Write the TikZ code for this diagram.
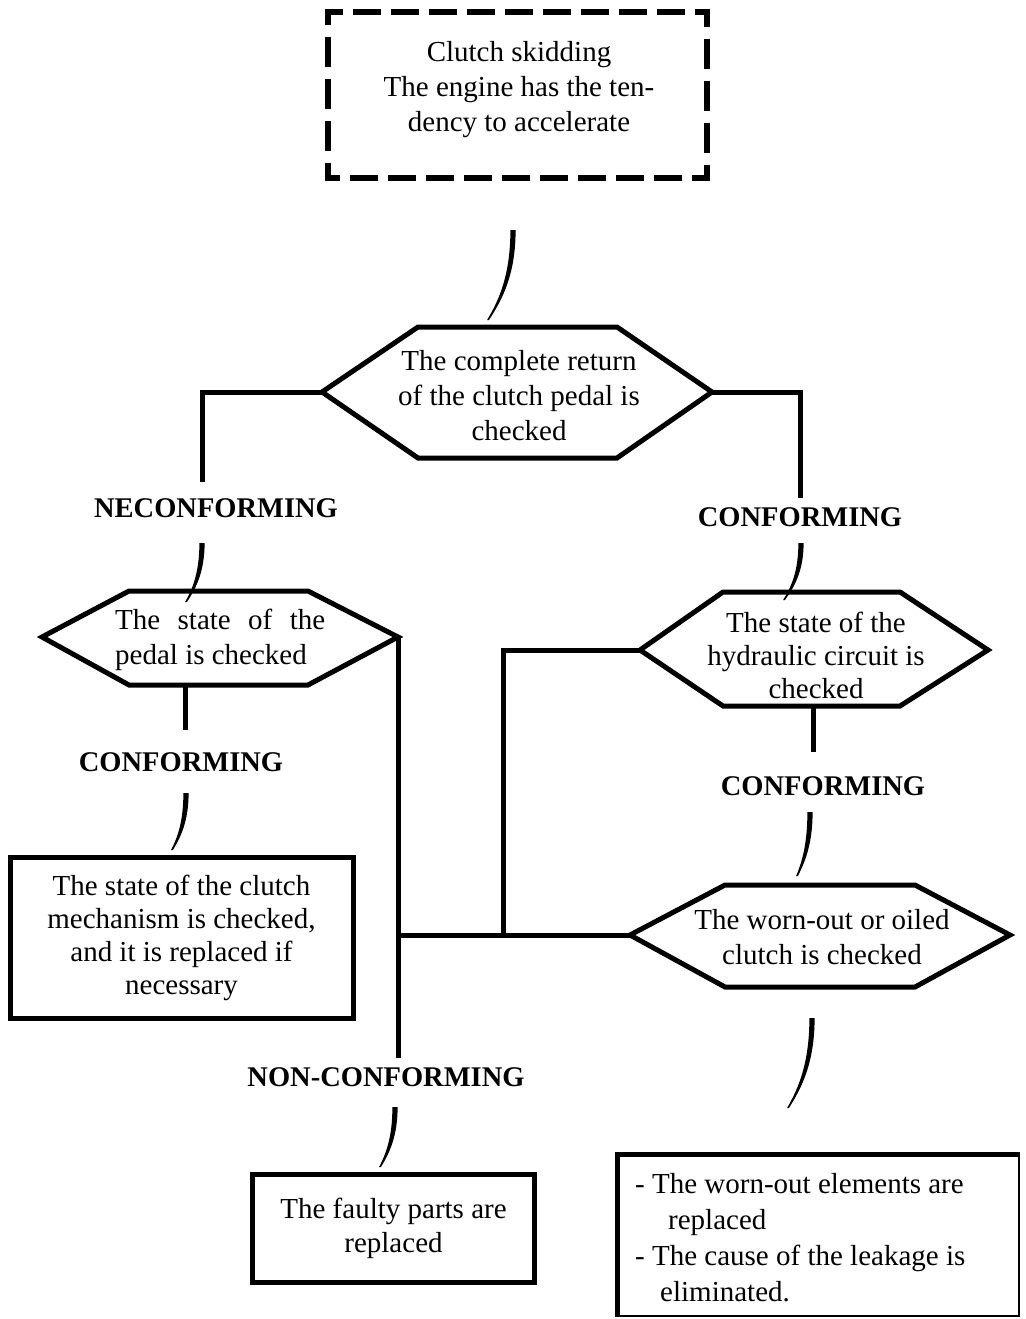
\documentclass[tikz,border=0pt]{standalone}
\usepackage{fontspec}
\setmainfont{Liberation Serif}
\usetikzlibrary{calc}
\tikzset{
  txt/.style={font=\fontsize{29}{35}\selectfont, align=center, inner sep=0pt},
  lbl/.style={font=\fontsize{28.5}{34}\selectfont\bfseries, inner sep=0pt},
  wire/.style={line width=5pt, line join=miter},
  shapeline/.style={line width=5pt, line join=miter},
  boxnode/.style={draw, line width=5pt, inner sep=0pt},
  hdash/.style={line width=6pt, dash pattern=on 28pt off 10pt, dash phase=10pt},
  vdash/.style={line width=6pt, dash pattern=on 30pt off 12pt, dash phase=12pt},
}
% tapered, slightly bent stroke from a top point down to a bottom point
\newcommand\brush[2]{\fill let \p1=(#1), \p2=(#2) in
  (\x1-2.6pt,\y1) .. controls (\x1-2.6pt,0.5*\y1+0.5*\y2) and (0.5*\x2+0.5*\x1-1.5pt,0.78*\y2+0.22*\y1) .. (\x2-0.9pt,\y2)
  -- (\x2+0.9pt,\y2) .. controls (0.5*\x2+0.5*\x1+1.5pt,0.78*\y2+0.22*\y1) and (\x1+2.6pt,0.5*\y1+0.5*\y2) .. (\x1+2.6pt,\y1) -- cycle;}
% elongated hexagon: name, xW, xNW, xNE, xE, yTop, yMid, yBottom
\newcommand\hexa[8]{%
  \coordinate (#1-w) at (#2,#7);
  \coordinate (#1-nw) at (#3,#6);
  \coordinate (#1-ne) at (#4,#6);
  \coordinate (#1-e) at (#5,#7);
  \coordinate (#1-se) at (#4,#8);
  \coordinate (#1-sw) at (#3,#8);
  \draw[shapeline] (#1-w) -- (#1-nw) -- (#1-ne) -- (#1-e) -- (#1-se) -- (#1-sw) -- cycle;}
\begin{document}
\begin{tikzpicture}[x=1pt,y=-1pt]
\useasboundingbox (0,0) rectangle (1025,1319);
\fill[white] (0,0) rectangle (1025,1319);

% starting symptom: dashed frame, each side starting and ending on a corner
\node[minimum width=379pt, minimum height=166pt, inner sep=0pt] (start) at (517.5,95) {};
\draw[hdash] ($(start.north west)+(-3,0)$) -- ($(start.north east)+(3,0)$);
\draw[vdash] ($(start.north east)+(0,-3)$) -- ($(start.south east)+(0,3)$);
\draw[hdash] ($(start.south east)+(3,0)$) -- ($(start.south west)+(-3,0)$);
\draw[vdash] ($(start.south west)+(0,3)$) -- ($(start.north west)+(0,-3)$);
\node[txt] (starttext) at (519,90) {Clutch skidding\\The engine has the ten-\\dency to accelerate};

% decision hexagons
\hexa{h1}{322}{418}{617}{712}{327}{392}{458}
\node[txt] (h1text) at (519,396) {The complete return\\of the clutch pedal is\\checked};

\hexa{h2}{42}{129}{308}{398}{591}{637}{685}
\node[txt, align=left, anchor=west] (h2text) at (115,640) {\makebox[210pt][s]{The state of the}\\pedal is checked};

\hexa{h3}{640}{723}{900}{988}{592}{650}{706}
\node[txt, font=\fontsize{29}{33}\selectfont] (h3text) at (816,655) {The state of the\\hydraulic circuit is\\checked};

\hexa{h4}{630}{725}{915}{1010}{885}{935}{987}
\node[txt] (h4text) at (822,937) {The worn-out or oiled\\clutch is checked};

% action boxes
\node[boxnode, txt, font=\fontsize{29}{33}\selectfont, minimum width=343pt, minimum height=161pt] (mech) at (181.5,937.5)
  {The state of the clutch\\mechanism is checked,\\and it is replaced if\\necessary};
\node[boxnode, txt, font=\fontsize{29}{34}\selectfont, minimum width=282pt, minimum height=108pt] (faulty) at (393.5,1228.5)
  {The faulty parts are\\replaced};
\coordinate (fixnw) at (617.5,1154.5);
\coordinate (fixse) at (1019,1316);
\draw[line width=2pt] (fixnw -| fixse) -- (fixse) -- (fixse -| fixnw);
\draw[line width=5pt, line join=miter] ($(fixse -| fixnw)+(0,1)$) -- (fixnw) -- ($(fixnw -| fixse)+(1,0)$);
\node[txt, align=left, anchor=west, font=\fontsize{29}{36}\selectfont] (fixtext) at (635,1238)
  {- The worn-out elements are\\\hspace*{33pt}replaced\\- The cause of the leakage is\\\hspace*{25pt}eliminated.};

% outcome labels
\node[lbl] (nc1) at (216,508) {NECONFORMING};
\node[lbl] (c1) at (800,517) {CONFORMING};
\node[lbl] (c2) at (181,762) {CONFORMING};
\node[lbl] (c3) at (823,786) {CONFORMING};
\node[lbl] (nc2) at (386,1077) {NON-CONFORMING};

% free ends and joints of the straight connectors
\coordinate (e1) at (202,482);
\coordinate (e2) at (800,498);
\coordinate (h2b) at (185,685);
\coordinate (e3) at (185,730);
\coordinate (e4) at (398,1058);
\coordinate (j1) at (398,935);
\coordinate (j2) at (503,935);
\coordinate (h3b) at (813,706);
\coordinate (e5) at (813,752);

\draw[wire] (h1-w) -| (e1);
\draw[wire] (h1-e) -| (e2);
\draw[wire] (h2b) -- (e3);
\draw[wire] (h2-e) -- (e4);
\draw[wire] (j1) -- (h4-w);
\draw[wire] (j2) |- (h3-w);
\draw[wire] (h3b) -- (e5);

% curved strokes
\coordinate (s1a) at (513,230);  \coordinate (s1b) at (488,320);
\coordinate (s2a) at (202,543);  \coordinate (s2b) at (186,602);
\coordinate (s3a) at (801,543);  \coordinate (s3b) at (784,600);
\coordinate (s4a) at (186,793);  \coordinate (s4b) at (172,850);
\coordinate (s5a) at (810,812);  \coordinate (s5b) at (797,876);
\coordinate (s6a) at (812,1018); \coordinate (s6b) at (788,1108);
\coordinate (s7a) at (395,1107); \coordinate (s7b) at (380,1167);
\brush{s1a}{s1b}
\brush{s2a}{s2b}
\brush{s3a}{s3b}
\brush{s4a}{s4b}
\brush{s5a}{s5b}
\brush{s6a}{s6b}
\brush{s7a}{s7b}
\end{tikzpicture}
\end{document}
